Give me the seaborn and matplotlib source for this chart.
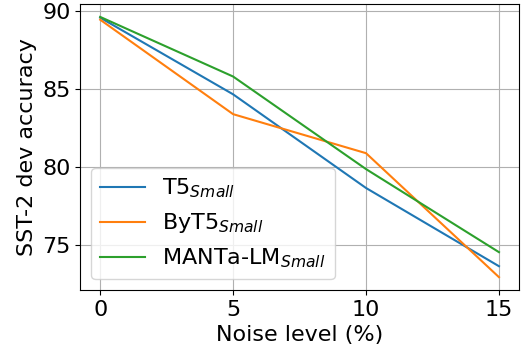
import pandas as pd
import matplotlib.pyplot as plt
import seaborn as sns

noise = [0, 5, 10, 15]
t5 = [89.55, 84.64, 78.64, 73.63]
byt5 = [89.42, 83.37, 80.87, 72.93]
manta = [89.6, 85.78, 79.85, 74.53]

labels = ["T5$_{Small}$", "ByT5$_{Small}$", "MANTa-LM$_{Small}$"]

df = pd.DataFrame({
    "noise": noise * 3,
    "acc": t5 + byt5 + manta,
    "model": [labels[0]] * 4 + [labels[1]] * 4 + [labels[2]] * 4,
})

plt.rcParams["font.size"] = 16
fig = plt.figure(figsize=(5.21, 3.53), dpi=100)
ax = sns.lineplot(data=df, x="noise", y="acc", hue="model",
                  palette=["#1f77b4", "#ff7f0e", "#2ca02c"])
ax.grid(True)
ax.set_xticks([0, 5, 10, 15])
ax.set_xlabel("Noise level (%)", fontsize=16)
ax.set_ylabel("SST-2 dev accuracy", fontsize=16)
ax.legend(loc="lower left", fontsize=16)
plt.subplots_adjust(left=0.154, right=0.996, top=0.989, bottom=0.178)
plt.savefig("out.png", dpi=100)
plt.close()
